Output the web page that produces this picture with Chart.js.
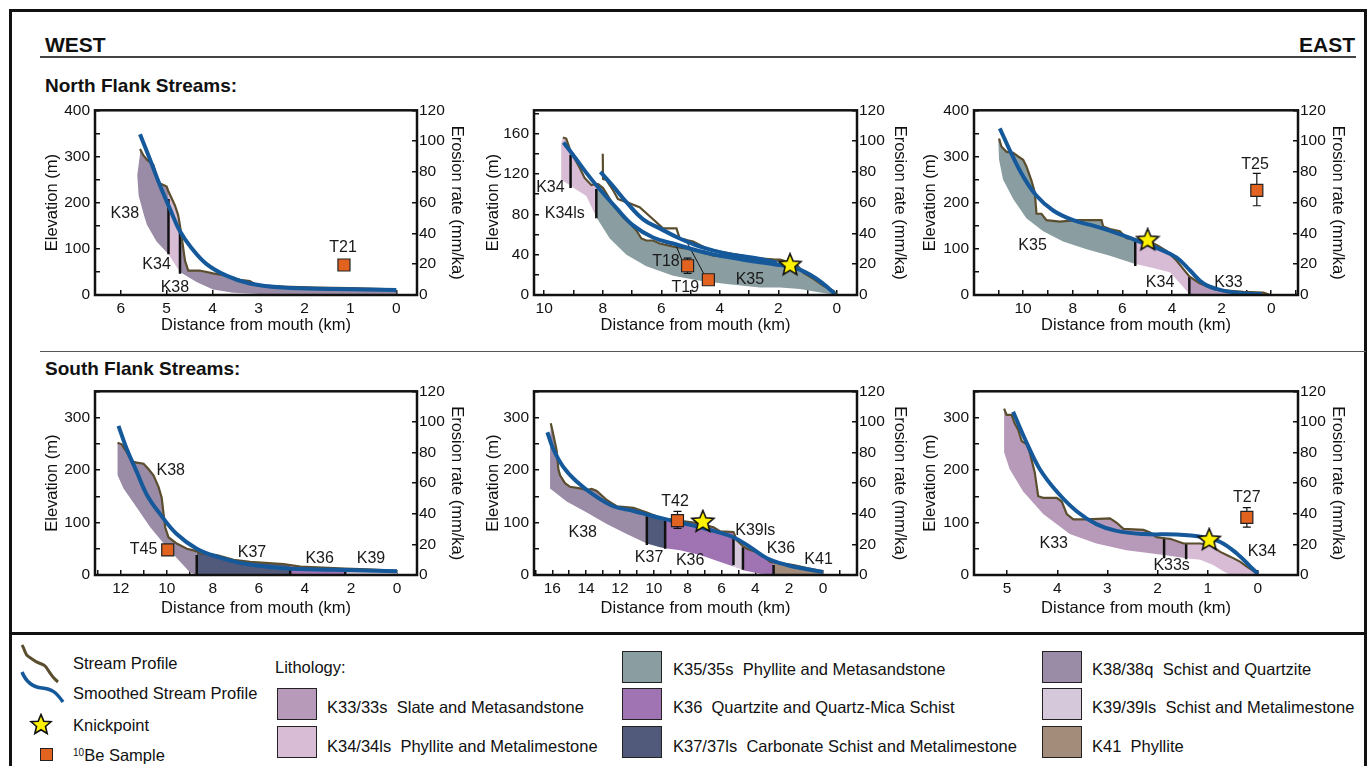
<!DOCTYPE html>
<html>
<head>
<meta charset="utf-8">
<title>North and South flank stream profiles</title>
<script src="https://cdn.jsdelivr.net/npm/chart.js@4.4.1/dist/chart.umd.min.js"></script>
<style>
  body { margin: 0; background: #fff; font-family: "Liberation Sans", Arial, Helvetica, sans-serif; color: #111; }
  #page { position: relative; width: 1372px; height: 766px; overflow: hidden; }
  #page div, #page canvas, #page svg { position: absolute; }
  .rule { background: #111; }
  .txt { line-height: 1; white-space: pre; }
  .head { font-weight: bold; }
  .leg { font-size: 16.5px; }
  .swatch { width: 38px; height: 30px; border: 1.5px solid #222; }
</style>
</head>
<body>
<div id="page">
  <!-- frame and rules -->
  <div class="rule" style="left:9px;top:9px;width:1358px;height:3px"></div>
  <div class="rule" style="left:9px;top:9px;width:3px;height:760px"></div>
  <div class="rule" style="left:1364px;top:9px;width:3px;height:760px"></div>
  <div class="rule" style="left:9px;top:632px;width:1358px;height:3px"></div>
  <div class="rule" style="left:40px;top:56px;width:1316px;height:1.5px;background:#444"></div>
  <div class="rule" style="left:40px;top:351px;width:1326px;height:1px;background:#555"></div>

  <div class="txt head" style="left:45px;top:34px;font-size:21px">WEST</div>
  <div class="txt head" style="right:17px;top:34px;font-size:21px">EAST</div>
  <div class="txt head" style="left:45px;top:76px;font-size:19px">North Flank Streams:</div>
  <div class="txt head" style="left:45px;top:359px;font-size:19px">South Flank Streams:</div>

  <!-- legend -->
  <svg style="left:18px;top:642px" width="46" height="44"><path d="M4 3 C 8 9, 6 12, 11 15 S 16 19, 21 21 S 27 23, 30 28 S 35 36, 40 40" fill="none" stroke="#5b4e2e" stroke-width="3"/></svg>
  <svg style="left:18px;top:668px" width="50" height="40"><path d="M4 4 C 8 14, 14 19, 24 20 S 38 24, 45 34" fill="none" stroke="#15599b" stroke-width="3.5"/></svg>
  <div id="legendStar" style="left:29px;top:713px;width:24px;height:24px"></div>
  <div style="left:40px;top:748px;width:11px;height:11px;background:#e2631f;border:1px solid #222"></div>
  <div class="txt leg" style="left:73px;top:655px">Stream Profile</div>
  <div class="txt leg" style="left:73px;top:685px">Smoothed Stream Profile</div>
  <div class="txt leg" style="left:73px;top:717px">Knickpoint</div>
  <div class="txt leg" style="left:73px;top:747px"><span style="font-size:10px;vertical-align:5px">10</span>Be Sample</div>

  <div class="txt leg" style="left:275px;top:659px">Lithology:</div>
  <div class="swatch" style="left:277px;top:688px;background:#b79ab9"></div>
  <div class="swatch" style="left:277px;top:726px;background:#d8bcd6"></div>
  <div class="txt leg" style="left:327px;top:699px">K33/33s  Slate and Metasandstone</div>
  <div class="txt leg" style="left:327px;top:738px">K34/34ls  Phyllite and Metalimestone</div>

  <div class="swatch" style="left:622px;top:651px;background:#8a9ea2"></div>
  <div class="swatch" style="left:622px;top:688px;background:#a073b3"></div>
  <div class="swatch" style="left:622px;top:726px;background:#525a7c"></div>
  <div class="txt leg" style="left:673px;top:661px">K35/35s  Phyllite and Metasandstone</div>
  <div class="txt leg" style="left:673px;top:699px">K36  Quartzite and Quartz-Mica Schist</div>
  <div class="txt leg" style="left:673px;top:738px">K37/37ls  Carbonate Schist and Metalimestone</div>

  <div class="swatch" style="left:1042px;top:651px;background:#9a8ba7"></div>
  <div class="swatch" style="left:1042px;top:688px;background:#d5c8da"></div>
  <div class="swatch" style="left:1042px;top:726px;background:#a38d7a"></div>
  <div class="txt leg" style="left:1092px;top:661px">K38/38q  Schist and Quartzite</div>
  <div class="txt leg" style="left:1092px;top:699px">K39/39ls  Schist and Metalimestone</div>
  <div class="txt leg" style="left:1092px;top:738px">K41  Phyllite</div>
</div>

<script>
// Distance from mouth (km), elevation (m); samples use erosion rate (mm/ka)

// North flank, west stream
const p1Profile = [[5.58,316],[5.51,303],[5.43,293],[5.29,282],[5.18,243],[5.07,238],[5.00,235],[4.96,224],[4.82,194],[4.75,173],[4.71,150],[4.67,123],[4.60,74],[4.53,53],[4.28,53],[3.99,47],[3.70,42],[3.41,33],[3.19,30],[3.04,21],[2.46,18],[1.74,16],[1.01,15],[0.07,12],[0.00,7]];
const p1Smooth = [[5.58,348],[5.36,293],[5.14,236],[4.93,187],[4.71,138],[4.46,102],[4.13,67],[3.70,42],[3.19,25],[2.46,16],[1.38,13],[0.00,10.6]];
const p1Base = [[5.58,305],[5.64,260],[5.61,215],[5.50,175],[5.43,152],[5.22,116],[4.96,88],[4.71,50],[4.35,28],[3.99,12],[3.55,5],[2.97,2],[2.10,1.4],[0.00,1.4]];
const p1Units = [['K38',5.7,4.96],['K34',4.96,4.71],['K38',4.71,0]];
const p1Contacts = [[4.96,208,88],[4.71,141,46]];
const p1Samples = [[1.14,19.5,null,null]];
const p1Knicks = [];
const p1Labels = [['K38',5.91,176],['K34',5.22,66],['K38',4.82,16],['T21',1.16,102]];

// North flank, central streams (two profiles)
const p2Profile = [[9.36,156],[9.25,155],[9.13,145],[9.10,142],[8.96,135],[8.79,126],[8.62,116],[8.39,109],[8.22,110],[8.16,110],[7.99,106],[7.82,98],[7.59,87],[7.31,77],[7.08,71],[6.85,64],[6.68,56],[6.51,54],[6.28,54],[6.05,51],[5.59,48],[4.91,45],[4.22,39],[3.42,37],[2.63,35],[1.94,35],[1.37,30],[1.14,22],[0.80,16],[0.46,9],[0.11,4],[0.00,0]];
const p2ProfileB = [[8.00,140],[7.99,115],[7.88,114],[7.65,104],[7.48,95],[7.19,92],[6.74,87],[6.28,75],[5.94,66],[5.48,66],[5.37,56],[4.91,53],[4.45,46],[4.00,43],[3.42,40],[2.85,37],[2.17,35]];
const p2Smooth = [[9.34,151],[9.02,139],[8.56,121],[8.11,105],[7.53,86],[6.96,69],[6.28,57],[5.48,50],[4.34,41],[3.20,35],[2.05,30],[1.48,27.5],[0.91,20],[0.46,11],[0.06,1]];
const p2SmoothB = [[8.08,122],[7.65,108],[7.19,92],[6.62,75],[6.05,66],[5.37,56],[4.68,48],[3.77,41],[2.85,37],[2.05,32]];
const p2Base = [[9.42,150],[9.42,114],[9.13,109],[9.10,108],[8.56,98],[8.22,77],[7.76,56],[7.19,40],[6.51,28.5],[5.59,19],[4.68,14],[3.77,11],[2.63,7.4],[1.94,7.4],[1.26,6],[0.57,2.6],[0.00,0]];
const p2Units = [['K34',9.5,9.10],['K34',9.10,8.22],['K35',8.22,0]];
const p2Contacts = [[9.10,139,106],[8.22,105,76]];
const p2Samples = [[5.10,19,14,24],[4.39,9.9,null,null]];
const p2Leaders = [[[5.48,48],[5.27,33]],[[5.19,56],[4.51,19]]];
const p2Knicks = [[1.6,29.5]];
const p2Labels = [['K34',9.79,106],['K34ls',9.30,81],['T18',5.84,33],['T19',5.18,7],['K35',2.97,15.5]];

// North flank, east stream
const p3Profile = [[10.97,339],[10.87,321],[10.67,310],[10.40,308],[10.20,300],[10.00,293],[9.87,279],[9.66,247],[9.53,222],[9.46,176],[9.26,176],[9.06,162],[8.52,159],[7.85,162],[7.31,162],[6.84,162],[6.77,148],[6.50,143],[6.10,138],[5.83,123],[5.48,120],[5.42,120],[4.89,116],[4.55,106],[4.21,95],[3.81,74],[3.54,56],[3.30,40],[3.27,39],[2.87,25],[2.19,11],[1.12,7],[0.31,5],[0.04,0]];
const p3Smooth = [[10.94,361],[10.54,314],[10.00,257],[9.46,215],[8.79,183],[7.98,162],[7.04,148],[6.23,134],[5.42,118],[4.62,102],[3.81,81],[3.27,53],[2.73,25],[2.06,11],[1.12,3.5],[0.38,2]];
const p3Base = [[11.00,335],[10.97,293],[10.81,250],[10.40,208],[9.87,166],[9.19,138],[8.39,116],[7.44,99],[6.50,85],[5.48,67],[4.89,60],[4.08,49],[3.67,25],[3.30,2],[0.00,2]];
const p3Units = [['K35',11.1,5.48],['K34',5.48,3.30],['K33',3.30,0]];
const p3Contacts = [[5.48,120,63],[3.30,39,2]];
const p3Samples = [[0.58,68,58,79]];
const p3Knicks = [[4.98,118.5]];
const p3Labels = [['K35',9.62,106],['K34',4.48,26],['K33',1.72,26],['T25',0.65,282]];

// South flank, west stream
const p4Profile = [[12.14,252],[11.96,249],[11.74,234],[11.52,216],[11.30,214],[11.01,212],[10.80,202],[10.58,190],[10.36,168],[10.22,147],[10.14,116],[10.07,91],[9.93,72],[9.57,60],[9.13,50],[8.84,47],[8.70,45],[8.55,41],[7.83,38],[7.10,29],[6.38,25],[4.93,21],[4.64,19],[4.20,16],[2.75,13],[2.25,12],[1.30,11],[0.00,8]];
const p4Smooth = [[12.10,284],[11.74,240],[11.30,196],[10.87,153],[10.29,116],[9.57,78],[8.70,50],[7.83,35],[6.67,22],[4.93,13],[2.75,10],[0.00,7]];
const p4Base = [[12.14,190],[11.88,165],[11.30,128],[10.72,91],[10.00,53],[9.35,22],[8.99,5],[8.70,1],[4.64,1],[2.25,1],[0.00,1]];
const p4Units = [['K38',12.2,8.70],['K37',8.70,4.64],['K36',4.64,2.25],['K39',2.25,0]];
const p4Contacts = [[8.70,38,0],[4.64,10,0],[2.25,9,0]];
const p4Samples = [[9.96,16.4,null,null]];
const p4Knicks = [];
const p4Labels = [['K38',9.83,198],['T45',11.01,48],['K37',6.30,42],['K36',3.36,32],['K39',1.13,32]];

// South flank, central stream
const p5Profile = [[16.09,289],[15.98,274],[15.74,237],[15.64,202],[15.54,190],[15.25,175],[14.95,168],[14.36,165],[13.96,162],[13.67,164],[13.37,160],[12.78,143],[12.49,137],[12.19,131],[11.20,128],[10.41,119],[9.63,109],[9.33,107],[8.64,104],[7.65,100],[6.86,94],[6.47,91],[6.07,83],[5.29,82],[5.09,66],[4.73,55],[4.50,50],[3.71,41],[3.12,25],[2.92,24],[2.52,22],[1.74,19],[0.95,13],[0.00,7]];
const p5Smooth = [[16.29,272],[15.94,240],[15.35,206],[14.56,178],[13.57,153],[12.39,131],[11.20,122],[10.02,112],[8.84,103],[7.65,94],[6.47,84],[5.29,72],[4.30,53],[3.31,32],[2.13,19],[0.95,11],[0.00,6]];
const p5Base = [[16.13,246],[16.13,165],[15.15,140],[13.96,119],[12.78,97],[11.60,78],[10.41,60],[9.63,53],[9.33,51],[8.44,47],[7.26,38],[6.07,25],[5.29,16],[4.73,9],[3.71,2.5],[2.92,1.2],[0.00,1.2]];
const p5Units = [['K38',16.2,10.41],['K37',10.41,9.33],['K36',9.33,5.29],['K39',5.29,4.73],['K36',4.73,2.92],['K41',2.92,0]];
const p5Contacts = [[10.41,112,57],[9.33,103,50],[5.29,72,19],[4.73,53,10],[2.92,19,0]];
const p5Samples = [[8.6,35.5,30.4,41.5]];
const p5Knicks = [[7.1,101]];
const p5Labels = [['K38',14.2,80],['T42',8.74,140],['K37',10.28,34],['K36',7.85,27],['K39ls',4.0,84],['K36',2.49,50],['K41',0.26,29]];

// South flank, east stream
const p6Profile = [[5.06,317],[5.01,305],[4.91,305],[4.85,289],[4.78,277],[4.71,255],[4.61,249],[4.55,234],[4.45,196],[4.38,150],[4.28,147],[4.01,147],[3.91,140],[3.81,116],[3.68,106],[3.42,106],[2.95,108],[2.82,100],[2.68,88],[2.28,86],[2.15,81],[2.02,72],[1.87,70],[1.75,69],[1.48,60],[1.43,60],[1.15,60],[0.95,57],[0.75,44],[0.55,35],[0.35,25],[0.22,16],[0.00,2]];
const p6Smooth = [[4.88,311],[4.61,252],[4.35,202],[4.01,159],[3.62,122],[3.22,97],[2.82,84],[2.28,78],[1.62,77],[1.09,72],[0.75,63],[0.42,41],[0.15,16],[0.00,2]];
const p6Base = [[5.06,234],[4.95,202],[4.68,159],[4.28,116],[3.75,78],[3.22,60],[2.62,47],[1.87,38],[1.43,32],[1.15,29],[0.89,19],[0.69,7],[0.55,0.6],[0.00,0.6]];
const p6Units = [['K33',5.1,1.87],['K33',1.87,1.43],['K34',1.43,0]];
const p6Contacts = [[1.87,72,32],[1.43,60,30]];
const p6Samples = [[0.22,37.6,31.3,44]];
const p6Knicks = [[0.97,66.5]];
const p6Labels = [['K33',4.07,60],['K33s',1.72,17],['K34',-0.08,44],['T27',0.22,148]];

const LITHO_COLORS = {K33:'#b79ab9', K34:'#d8bcd6', K35:'#8a9ea2', K36:'#a073b3', K37:'#525a7c', K38:'#9a8ba7', K39:'#d5c8da', K41:'#a38d7a'};
const FONT = '"Liberation Sans", Arial, Helvetica, sans-serif';
const INK = '#111';

Chart.defaults.font.family = FONT;
Chart.defaults.color = INK;

// yellow knickpoint star used as a point style
function starImage(size) {
    const c = document.createElement('canvas');
    c.width = c.height = size;
    const g = c.getContext('2d');
    const r = size / 2 - 1.5, ri = r * 0.45;
    g.beginPath();
    for (let i = 0; i < 10; i++) {
        const a = -Math.PI / 2 + i * Math.PI / 5;
        const rr = i % 2 ? ri : r;
        g.lineTo(size / 2 + rr * Math.cos(a), size / 2 + rr * Math.sin(a));
    }
    g.closePath();
    g.fillStyle = '#fff200';
    g.fill();
    g.lineWidth = 1.6;
    g.strokeStyle = INK;
    g.stroke();
    return c;
}
const STAR = starImage(26);
document.getElementById('legendStar').appendChild(starImage(24));

function pts(arr) { return arr.map(p => ({x: p[0], y: p[1]})); }
function onStep(v, step) { const r = v / step; return v >= 0 && Math.abs(r - Math.round(r)) < 1e-6; }

const framePlugin = {
    id: 'frame',
    afterDraw(chart) {
        const {ctx, chartArea: a} = chart;
        ctx.save();
        ctx.strokeStyle = INK;
        ctx.lineWidth = 2.5;
        ctx.strokeRect(a.left, a.top, a.right - a.left, a.bottom - a.top);
        ctx.restore();
    }
};

function labelPlugin(labels) {
    return {
        id: 'unitLabels',
        afterDatasetsDraw(chart) {
            const {ctx, scales: {x, y}} = chart;
            ctx.save();
            ctx.font = '16px ' + FONT;
            ctx.fillStyle = '#1a1a1a';
            ctx.textAlign = 'center';
            ctx.textBaseline = 'middle';
            labels.forEach(([text, lx, ly]) => ctx.fillText(text, x.getPixelForValue(lx), y.getPixelForValue(ly)));
            ctx.restore();
        }
    };
}

function tickGrid() {
    return {drawOnChartArea: false, tickLength: -5, color: INK, lineWidth: 1.5};
}

function buildPanel(cfg) {
    const [left, right, top, bottom] = cfg.box;
    const canvas = document.createElement('canvas');
    canvas.width = right - left + 120;
    canvas.height = bottom - top + 15 + 48;
    canvas.style.left = (left - 60) + 'px';
    canvas.style.top = (top - 15) + 'px';
    document.getElementById('page').appendChild(canvas);

    const datasets = [];
    const mainProfile = cfg.profiles[0];
    // lithology bands: profile on top, base curve below
    cfg.units.forEach(([code, from, to]) => {
        const upper = mainProfile.filter(p => p[0] <= from && p[0] >= to);
        const lower = cfg.base.filter(p => p[0] <= from && p[0] >= to).reverse();
        datasets.push({data: pts(upper.concat(lower)), fill: 'shape', backgroundColor: LITHO_COLORS[code],
            borderWidth: 0, borderColor: 'transparent', pointRadius: 0, tension: 0, order: 6});
    });
    cfg.contacts.forEach(([cx, y1, y0]) => {
        datasets.push({data: pts([[cx, y1], [cx, y0]]), borderColor: INK, borderWidth: 2.5, pointRadius: 0, order: 5});
    });
    cfg.profiles.forEach(p => {
        datasets.push({data: pts(p), borderColor: '#5b4e2e', borderWidth: 2.2, pointRadius: 0, tension: 0, order: 4});
    });
    cfg.smooth.forEach(p => {
        datasets.push({data: pts(p), borderColor: '#15599b', borderWidth: 4, pointRadius: 0, tension: 0.4, order: 3});
    });
    cfg.leaders.forEach(p => {
        datasets.push({data: pts(p), borderColor: INK, borderWidth: 1, pointRadius: 0, order: 3});
    });
    cfg.samples.forEach(([sx, rate, lo, hi]) => {
        if (lo !== null) {
            datasets.push({data: pts([[sx, lo], [sx, hi]]), yAxisID: 'y2', borderColor: INK, borderWidth: 1.2,
                pointStyle: 'line', pointRadius: 4, pointBorderColor: INK, pointBorderWidth: 1.2, order: 2});
        }
        datasets.push({data: pts([[sx, rate]]), yAxisID: 'y2', showLine: false, pointStyle: 'rect', pointRadius: 8.5,
            pointBackgroundColor: '#e2631f', pointBorderColor: '#222', pointBorderWidth: 1.2, order: 1});
    });
    if (cfg.knicks.length) {
        datasets.push({data: pts(cfg.knicks), showLine: false, pointStyle: STAR, order: 0});
    }

    new Chart(canvas, {
        type: 'line',
        data: {datasets},
        options: {
            responsive: false,
            animation: false,
            events: [],
            layout: {padding: {top: 15, left: 0, right: 0, bottom: 0}},
            plugins: {legend: {display: false}, tooltip: {enabled: false}},
            scales: {
                x: {
                    type: 'linear', reverse: true, min: cfg.xRange[0], max: cfg.xRange[1],
                    afterFit: s => { s.height = 48; },
                    border: {display: false},
                    grid: tickGrid(),
                    ticks: {stepSize: 1, includeBounds: false, autoSkip: false, maxRotation: 0, padding: 9,
                        font: {size: 15.5}, color: INK,
                        callback: v => onStep(v, cfg.xLabelStep) ? String(v) : ''},
                    title: {display: true, text: 'Distance from mouth (km)', font: {size: 16.5}, color: INK,
                        padding: {top: 0, bottom: 48 - cfg.xTitleGap - 9.9}}
                },
                y: {
                    type: 'linear', position: 'left', min: 0, max: cfg.yMax,
                    afterFit: s => { s.width = 60; },
                    border: {display: false},
                    grid: tickGrid(),
                    ticks: {stepSize: cfg.yStep, includeBounds: false, autoSkip: false, padding: 10,
                        font: {size: 15.5}, color: INK,
                        callback: v => onStep(v, cfg.yLabelStep) ? String(v) : ''},
                    title: {display: true, text: 'Elevation (m)', font: {size: 16.5}, color: INK,
                        padding: {top: 60 - cfg.yTitleGap - 9.9, bottom: 0}}
                },
                y2: {
                    type: 'linear', position: 'right', min: 0, max: 120,
                    afterFit: s => { s.width = 60; },
                    border: {display: false},
                    grid: tickGrid(),
                    ticks: {stepSize: 20, includeBounds: false, autoSkip: false, padding: 7,
                        font: {size: 15.5}, color: INK},
                    title: {display: true, text: 'Erosion rate (mm/ka)', font: {size: 16.5}, color: INK,
                        padding: {top: 60 - cfg.y2TitleGap - 9.9, bottom: 0}}
                }
            }
        },
        plugins: [framePlugin, labelPlugin(cfg.labels)]
    });
}

const panels = [
    {box: [95, 417, 106, 295], xRange: [-0.45, 6.56], xLabelStep: 1, yMax: 400, yStep: 50, yLabelStep: 100,
     xTitleGap: 30, yTitleGap: 43, y2TitleGap: 40,
     profiles: [p1Profile], smooth: [p1Smooth], base: p1Base, units: p1Units, contacts: p1Contacts,
     samples: p1Samples, knicks: p1Knicks, leaders: [], labels: p1Labels},
    {box: [534, 857, 106, 295], xRange: [-0.69, 10.35], xLabelStep: 2, yMax: 183, yStep: 20, yLabelStep: 40,
     xTitleGap: 30, yTitleGap: 41, y2TitleGap: 43,
     profiles: [p2Profile, p2ProfileB], smooth: [p2Smooth, p2SmoothB], base: p2Base, units: p2Units, contacts: p2Contacts,
     samples: p2Samples, knicks: p2Knicks, leaders: p2Leaders, labels: p2Labels},
    {box: [974, 1298, 106, 295], xRange: [-1.08, 11.98], xLabelStep: 2, yMax: 400, yStep: 50, yLabelStep: 100,
     xTitleGap: 30, yTitleGap: 44, y2TitleGap: 40,
     profiles: [p3Profile], smooth: [p3Smooth], base: p3Base, units: p3Units, contacts: p3Contacts,
     samples: p3Samples, knicks: p3Knicks, leaders: [], labels: p3Labels},
    {box: [95, 417, 387, 575], xRange: [-0.87, 13.12], xLabelStep: 2, yMax: 350, yStep: 50, yLabelStep: 100,
     xTitleGap: 33, yTitleGap: 43, y2TitleGap: 40,
     profiles: [p4Profile], smooth: [p4Smooth], base: p4Base, units: p4Units, contacts: p4Contacts,
     samples: p4Samples, knicks: p4Knicks, leaders: [], labels: p4Labels},
    {box: [534, 857, 387, 575], xRange: [-2.01, 17.08], xLabelStep: 2, yMax: 350, yStep: 50, yLabelStep: 100,
     xTitleGap: 33, yTitleGap: 41, y2TitleGap: 43,
     profiles: [p5Profile], smooth: [p5Smooth], base: p5Base, units: p5Units, contacts: p5Contacts,
     samples: p5Samples, knicks: p5Knicks, leaders: [], labels: p5Labels},
    {box: [974, 1298, 387, 575], xRange: [-0.8, 5.66], xLabelStep: 1, yMax: 350, yStep: 50, yLabelStep: 100,
     xTitleGap: 33, yTitleGap: 44, y2TitleGap: 40,
     profiles: [p6Profile], smooth: [p6Smooth], base: p6Base, units: p6Units, contacts: p6Contacts,
     samples: p6Samples, knicks: p6Knicks, leaders: [], labels: p6Labels}
];

panels.forEach(buildPanel);
</script>
</body>
</html>
